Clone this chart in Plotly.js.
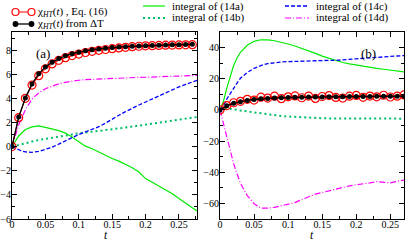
<!DOCTYPE html>
<html>
<head>
<meta charset="utf-8">
<script src="https://cdn.plot.ly/plotly-3.0.1.min.js"></script>
<style>html,body{margin:0;padding:0;background:#fff;}#chart{width:407px;height:242px;}</style>
</head>
<body>
<div id="chart"></div>
<script>
// ---- Panel (a) data ----
const tPtsA = [0,0.01,0.02,0.03,0.04,0.05,0.06,0.07,0.08,0.09,0.10,0.11,0.12,0.13,0.14,0.15,0.16,0.17,0.18,0.19,0.20,0.21,0.22,0.23,0.24,0.25,0.26,0.27];
const chiEq16A = [0,2.4,4.0,5.1,5.88,6.45,6.85,7.15,7.37,7.55,7.67,7.8,7.9,7.98,8.05,8.12,8.18,8.23,8.28,8.32,8.35,8.37,8.39,8.41,8.42,8.43,8.44,8.45];
const chiDeltaTA = [0,2.45,4.03,5.2,6.03,6.6,7.0,7.3,7.53,7.7,7.83,7.95,8.03,8.1,8.16,8.21,8.25,8.28,8.31,8.34,8.36,8.38,8.4,8.42,8.44,8.45,8.47,8.48];
const tLineA = [0,0.005,0.01,0.015,0.02,0.03,0.04,0.05,0.06,0.07,0.08,0.09,0.10,0.11,0.12,0.13,0.14,0.15,0.16,0.17,0.18,0.19,0.20,0.21,0.22,0.23,0.24,0.25,0.26,0.27,0.277];
const int14aA = [0,0.5,0.88,1.15,1.42,1.63,1.72,1.6,1.47,1.32,1.12,0.8,0.4,0.04,-0.18,-0.45,-0.75,-0.98,-1.2,-1.45,-1.75,-2.1,-2.65,-2.95,-3.25,-3.55,-3.9,-4.3,-4.7,-5.1,-5.33];
const int14bA = [0,0.08,0.15,0.23,0.3,0.42,0.55,0.65,0.75,0.85,0.95,1.03,1.1,1.17,1.23,1.3,1.36,1.43,1.5,1.58,1.66,1.75,1.84,1.93,2.02,2.1,2.17,2.25,2.32,2.4,2.45];
const int14cA = [0,-0.15,-0.28,-0.38,-0.44,-0.47,-0.4,-0.25,-0.05,0.2,0.5,0.75,1.0,1.22,1.43,1.65,1.95,2.3,2.6,2.9,3.2,3.45,3.7,3.95,4.2,4.5,4.75,4.95,5.15,5.35,5.5];
const int14dA = [0,1.0,1.8,2.45,3.05,3.95,4.45,4.8,5.02,5.2,5.33,5.43,5.5,5.55,5.58,5.61,5.64,5.66,5.68,5.7,5.72,5.74,5.75,5.77,5.79,5.81,5.83,5.85,5.87,5.89,5.9];

// ---- Panel (b) data ----
const tPtsB = [0,0.01,0.02,0.03,0.04,0.05,0.06,0.07,0.08,0.09,0.10,0.11,0.12,0.13,0.14,0.15,0.16,0.17,0.18,0.19,0.20,0.21,0.22,0.23,0.24,0.25,0.26,0.27];
const chiEq16B = [0,2.8,4.6,5.5,6.8,6.3,8.2,7.6,8.8,7.2,8.4,9.0,7.8,8.9,7.4,8.6,9.2,8.0,7.6,8.8,9.3,8.1,8.9,8.4,9.4,8.3,8.8,9.6];
const chiDeltaTB = [0,2.6,4.2,5.3,6.1,6.7,7.1,7.4,7.6,7.8,7.95,8.05,8.15,8.25,8.3,8.35,8.4,8.45,8.5,8.55,8.6,8.62,8.65,8.7,8.72,8.75,8.8,8.85];
const tLineB = [0,0.005,0.01,0.015,0.02,0.025,0.03,0.04,0.05,0.06,0.07,0.08,0.09,0.10,0.11,0.12,0.13,0.14,0.15,0.16,0.17,0.18,0.19,0.20,0.21,0.22,0.23,0.24,0.25,0.26,0.27];
const int14aB = [0,5.5,14,22,28.5,33.3,37,41.5,44,45,45,44.4,43.5,42.3,41,39.6,38,36.3,34.5,33,31.6,30.4,29.5,28.7,28,27.3,26.7,26.1,25.5,25,24.4];
const int14bB = [0,0.8,0.9,0.7,0.5,0.1,-0.4,-1.0,-1.6,-2.3,-3.0,-3.5,-3.9,-4.25,-4.55,-4.8,-5.0,-5.2,-5.35,-5.45,-5.5,-5.55,-5.6,-5.6,-5.6,-5.6,-5.6,-5.6,-5.6,-5.6,-5.6];
const int14cB = [0,2.8,7,10.7,14,17.2,20.3,24,26.7,28.5,29.7,30.4,30.8,31,31.2,31.3,31.5,31.7,31.8,31.8,31.8,32,32.4,32.8,33.1,33.3,33.6,34,34.3,34.6,34.9];
const int14dB = [0,-8.7,-17.5,-26,-34.5,-41,-47,-55,-60.2,-63,-63,-62.5,-61.5,-60.5,-59.5,-57.5,-55.5,-54,-53,-51.8,-50.7,-49.8,-48.7,-48,-47.5,-46.8,-46,-46.5,-46.8,-45.8,-45];

// ---- Tick labels / legend text ----
const xTickVals = [0,0.05,0.1,0.15,0.2,0.25];
const xTickText = ['0','0.05','0.1','0.15','0.2','0.25'];
const xTitle = '<i>t</i>';
const legendNames = ['χ<sub><i>HT</i></sub>(<i>t</i>) , Eq. (16)', 'χ<sub><i>HT</i></sub>(<i>t</i>) from ΔT', 'integral of (14a)', 'integral of (14b)', 'integral of (14c)', 'integral of (14d)'];

const FONT = '"Liberation Serif", "Times New Roman", serif';
const C_GREEN = 'rgb(0,235,0)';
const C_TEAL = 'rgb(0,190,100)';
const C_BLUE = 'rgb(0,0,255)';
const C_MAG = 'rgb(255,0,255)';
const C_RED = 'rgb(255,0,0)';

function lineTraces(tl, a, b, c, d, xa, ya) {
  return [
    {x: tl, y: a, xaxis: xa, yaxis: ya, mode: 'lines', line: {color: C_GREEN, width: 1.2}},
    {x: tl, y: b, xaxis: xa, yaxis: ya, mode: 'lines', line: {color: C_TEAL, width: 2, dash: '2px,3px'}},
    {x: tl, y: c, xaxis: xa, yaxis: ya, mode: 'lines', line: {color: C_BLUE, width: 1.3, dash: '4px,2px'}},
    {x: tl, y: d, xaxis: xa, yaxis: ya, mode: 'lines', line: {color: C_MAG, width: 1.2, dash: '6px,2px,1px,2px'}}
  ];
}
function chiTraces(tp, red, black, xa, ya) {
  return [
    {x: tp, y: red, xaxis: xa, yaxis: ya, mode: 'lines+markers', line: {color: C_RED, width: 1},
     marker: {symbol: 'circle-open', size: 8, color: C_RED, line: {width: 1.2, color: C_RED}}},
    {x: tp, y: black, xaxis: xa, yaxis: ya, mode: 'lines+markers', line: {color: 'black', width: 1.3},
     marker: {symbol: 'circle', size: 5, color: 'black'}}
  ];
}

const data = [].concat(
  lineTraces(tLineA, int14aA, int14bA, int14cA, int14dA, 'x', 'y'),
  chiTraces(tPtsA, chiEq16A, chiDeltaTA, 'x', 'y'),
  lineTraces(tLineB, int14aB, int14bB, int14cB, int14dB, 'x2', 'y2'),
  chiTraces(tPtsB, chiEq16B, chiDeltaTB, 'x2', 'y2')
);

const axisCommon = {
  showline: true, linecolor: 'black', linewidth: 1, mirror: 'allticks',
  ticks: 'inside', ticklen: 5, tickwidth: 1, tickcolor: 'black',
  showgrid: false, zeroline: false, fixedrange: true,
  tickfont: {family: FONT, size: 10, color: 'black'}
};
function xAxis(domain, range, anchor) {
  return Object.assign({}, axisCommon, {
    domain: domain, range: range, anchor: anchor, ticklabelstandoff: -4,
    tickmode: 'array', tickvals: xTickVals, ticktext: xTickText,
    minor: {dtick: 0.025, tick0: 0, ticks: 'inside', ticklen: 3, tickcolor: 'black', showgrid: false}
  });
}
function yAxis(range, dtick, minorDtick, anchor) {
  return Object.assign({}, axisCommon, {
    range: range, anchor: anchor, dtick: dtick, tick0: 0, ticklabelstandoff: -2,
    minor: {dtick: minorDtick, tick0: 0, ticks: 'inside', ticklen: 3, tickcolor: 'black', showgrid: false}
  });
}

// legend helper positions (paper coords)
const W = 392, H = 187, L = 12, B = 219;
const px = v => (v - L) / W;
const py = v => (B - v) / H;

const lg = [
  {x0: 14, x1: 33, y: 12, text: legendNames[0], tx: 36, color: C_RED, width: 1, dash: 'solid', mk: 'open'},
  {x0: 14, x1: 33, y: 24, text: legendNames[1], tx: 36, color: 'black', width: 1.3, dash: 'solid', mk: 'dot'},
  {x0: 143, x1: 165, y: 6, text: legendNames[2], tx: 171, color: C_GREEN, width: 1.2, dash: 'solid'},
  {x0: 143, x1: 165, y: 18, text: legendNames[3], tx: 171, color: C_TEAL, width: 2, dash: '2px,3px'},
  {x0: 285, x1: 309, y: 6, text: legendNames[4], tx: 315, color: C_BLUE, width: 1.3, dash: '4px,2px'},
  {x0: 285, x1: 309, y: 18, text: legendNames[5], tx: 315, color: C_MAG, width: 1.2, dash: '6px,2px,1px,2px'}
];
const shapes = [];
const annotations = [];
lg.forEach(e => {
  shapes.push({type: 'line', xref: 'paper', yref: 'paper', x0: px(e.x0), x1: px(e.x1), y0: py(e.y), y1: py(e.y),
    line: {color: e.color, width: e.width, dash: e.dash}});
  if (e.mk) {
    [e.x0 + 1.5, e.x1 - 1.5].forEach(cx => {
      const r = e.mk === 'open' ? 3.5 : 2.3;
      shapes.push({type: 'circle', xref: 'paper', yref: 'paper', xsizemode: 'pixel', ysizemode: 'pixel',
        xanchor: px(cx), yanchor: py(e.y), x0: -r, x1: r, y0: -r, y1: r,
        line: {color: e.color, width: 1.2}, fillcolor: e.mk === 'open' ? 'white' : 'black'});
    });
  }
  annotations.push({xref: 'paper', yref: 'paper', x: px(e.tx), y: py(e.y), xanchor: 'left', yanchor: 'middle',
    text: e.text, showarrow: false, borderpad: 0, font: {family: FONT, size: 11, color: 'black'}});
});
annotations.push({xref: 'x domain', yref: 'y domain', x: 0.119, y: 0.938, text: '(a)', showarrow: false,
  font: {family: FONT, size: 13, color: 'black'}});
annotations.push({xref: 'x2 domain', yref: 'y2 domain', x: 0.859, y: 0.935, text: '(b)', showarrow: false,
  font: {family: FONT, size: 13, color: 'black'}});
// x-axis titles
[['x domain', 0.51], ['x2 domain', 0.5]].forEach(([xr, xv]) => {
  annotations.push({xref: xr, yref: 'paper', x: xv, y: py(242), xanchor: 'center', yanchor: 'bottom',
    text: xTitle, showarrow: false, borderpad: 0, font: {family: FONT, size: 11.5, color: 'black'}});
});

const layout = {
  width: 407, height: 242,
  margin: {l: 12, r: 3, t: 32, b: 23, pad: 0},
  paper_bgcolor: 'white', plot_bgcolor: 'white',
  showlegend: false,
  font: {family: FONT, size: 10, color: 'black'},
  xaxis: xAxis([0, 185 / 392], [0, 0.277], 'y'),
  yaxis: yAxis([-6, 9.5], 2, 1, 'x'),
  xaxis2: xAxis([208 / 392, 1], [0, 0.27], 'y2'),
  yaxis2: yAxis([-70, 50], 20, 10, 'x2'),
  shapes: shapes,
  annotations: annotations
};

Plotly.newPlot('chart', data, layout, {staticPlot: true, displayModeBar: false});
</script>
</body>
</html>
